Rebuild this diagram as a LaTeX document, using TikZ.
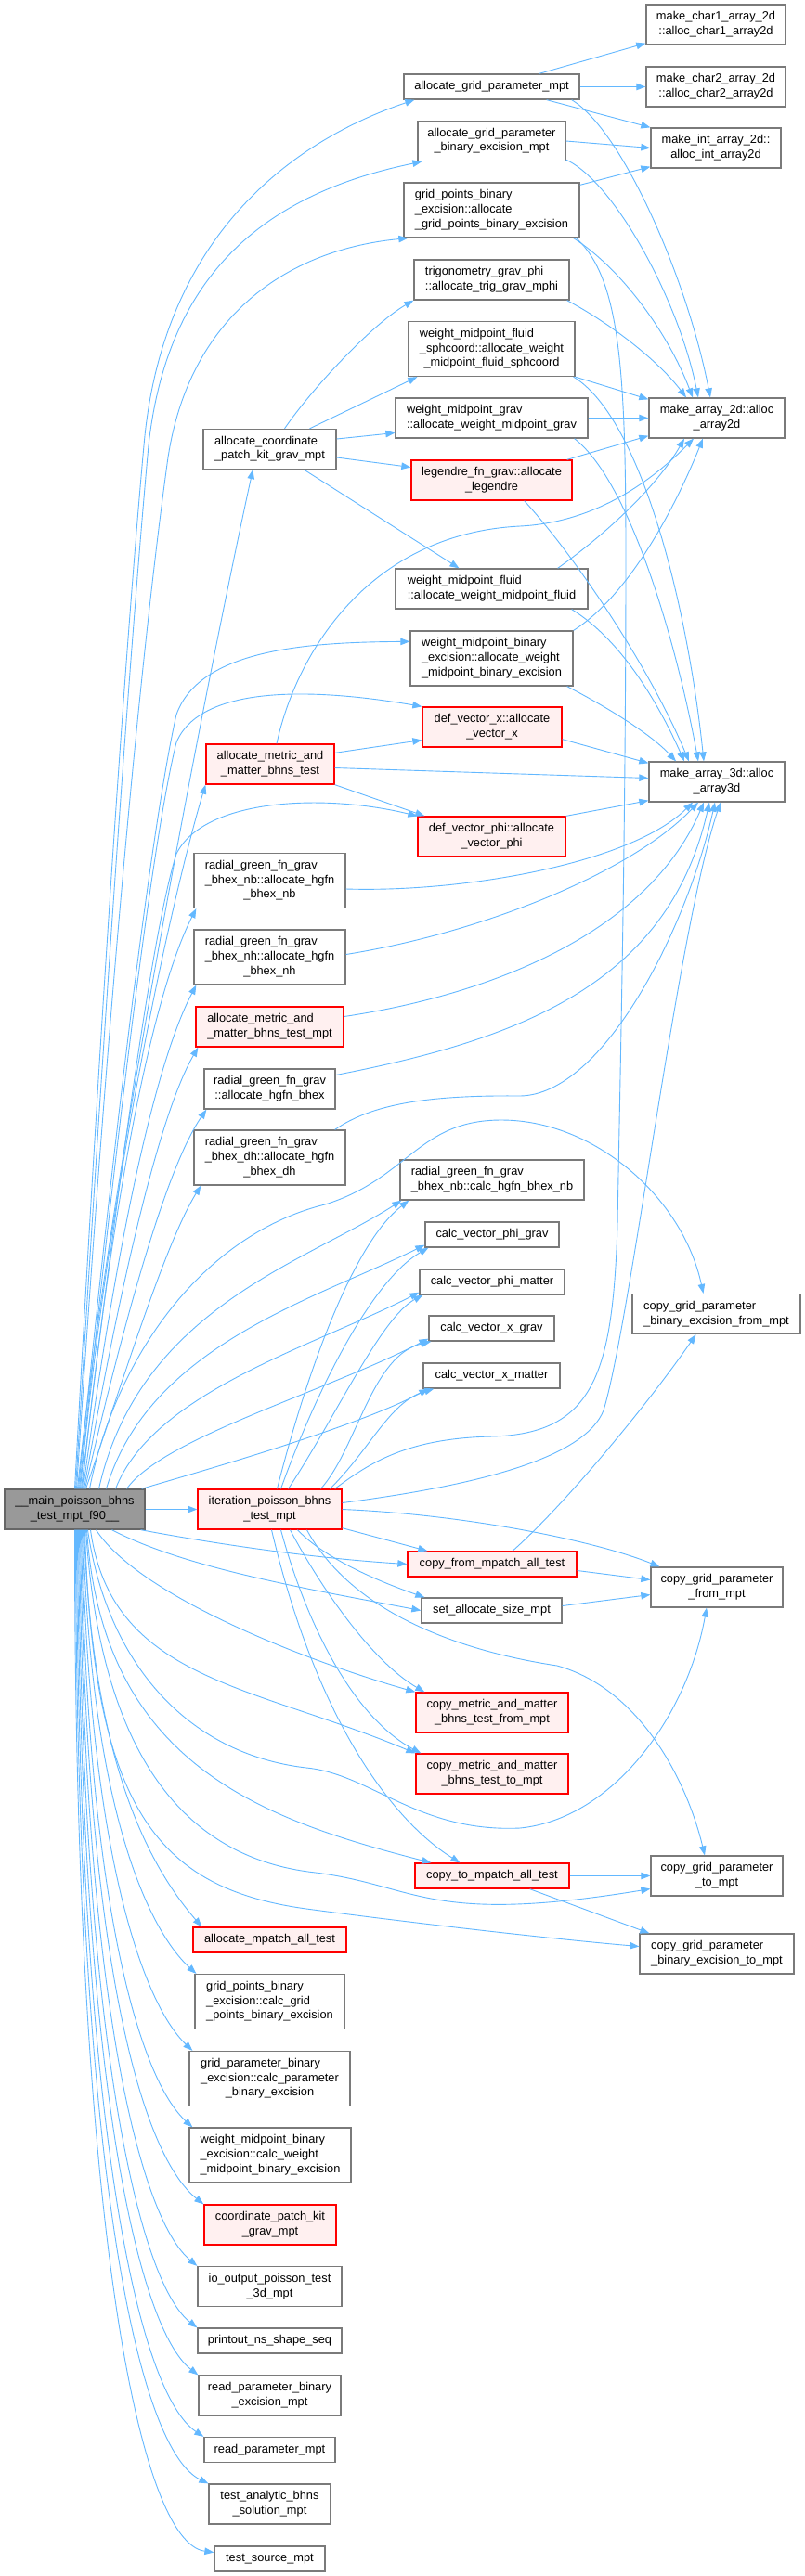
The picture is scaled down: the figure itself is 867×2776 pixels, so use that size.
\documentclass[tikz,border=0pt]{standalone}
\usepackage{fontspec}
\setmainfont{Liberation Sans}
\usetikzlibrary{arrows.meta}
\definecolor{edgeblue}{HTML}{63B8FF}
\definecolor{nodegray}{HTML}{7A7A7A}
\definecolor{nodered}{HTML}{FF0000}
\definecolor{nodepink}{HTML}{FFF0F0}
\definecolor{maingray}{HTML}{999999}
\definecolor{maindark}{HTML}{666666}
\newcommand\nodefont{\fontsize{12.8pt}{15.7pt}\selectfont}
\newcommand\twol[2]{\begin{tabular}{@{}l@{}}#1\\\multicolumn{1}{@{}c@{}}{#2}\end{tabular}}
\newcommand\threel[3]{\begin{tabular}{@{}l@{}}#1\\#2\\\multicolumn{1}{@{}c@{}}{#3}\end{tabular}}
\newcommand\nd[7]{\node[#2,minimum width=#5pt,minimum height=#6pt] (#1) at (#3,#4) {#7};}
\tikzset{
  box/.style={rectangle,draw=nodegray,fill=white,line width=1.3pt,inner sep=0pt,font=\nodefont},
  redbox/.style={box,draw=nodered,fill=nodepink},
  mainbox/.style={box,draw=maindark,fill=maingray},
  edge/.style={draw=edgeblue,line width=0.9pt,-{Triangle[length=10pt,width=7.5pt]}},
  plainedge/.style={draw=edgeblue,line width=0.9pt},
}
\begin{document}
\begin{tikzpicture}[x=1pt,y=-1pt]
\fill[white] (0,0) rectangle (867,2776);
\useasboundingbox (0,0) rectangle (867,2776);
% column 4
\nd{char1}{box}{771}{26.5}{150}{43}{\twol{make\_char1\_array\_2d}{::alloc\_char1\_array2d}}
\nd{char2}{box}{771}{93.5}{150}{43}{\twol{make\_char2\_array\_2d}{::alloc\_char2\_array2d}}
\nd{mint}{box}{771}{159.5}{140}{43}{\twol{make\_int\_array\_2d::}{alloc\_int\_array2d}}
\nd{ma2}{box}{772}{450.5}{146}{43}{\twol{make\_array\_2d::alloc}{\_array2d}}
\nd{ma3}{box}{772}{842.5}{146}{43}{\twol{make\_array\_3d::alloc}{\_array3d}}
\nd{cgpbef}{box}{771.5}{1416}{181}{43}{\twol{copy\_grid\_parameter}{\_binary\_excision\_from\_mpt}}
\nd{cgpfm}{box}{772}{1710.5}{142}{43}{\twol{copy\_grid\_parameter}{\_from\_mpt}}
\nd{cgptm}{box}{772}{2021.5}{142}{43}{\twol{copy\_grid\_parameter}{\_to\_mpt}}
\nd{cgpbetm}{box}{772}{2105.5}{166}{43}{\twol{copy\_grid\_parameter}{\_binary\_excision\_to\_mpt}}
% column 3
\nd{agp}{box}{529.5}{93.5}{189}{27}{allocate\_grid\_parameter\_mpt}
\nd{agpbe}{box}{529.5}{152}{159}{43}{\twol{allocate\_grid\_parameter}{\_binary\_excision\_mpt}}
\nd{gpbe}{box}{529.5}{226.5}{189}{59}{\threel{grid\_points\_binary}{\_excision::allocate}{\_grid\_points\_binary\_excision}}
\nd{trig}{box}{529.5}{301.5}{167}{43}{\twol{trigonometry\_grav\_phi}{::allocate\_trig\_grav\_mphi}}
\nd{sph}{box}{529.5}{376}{179}{59}{\threel{weight\_midpoint\_fluid}{\_sphcoord::allocate\_weight}{\_midpoint\_fluid\_sphcoord}}
\nd{wmg}{box}{529.5}{450.5}{207}{43}{\twol{weight\_midpoint\_grav}{::allocate\_weight\_midpoint\_grav}}
\nd{leg}{redbox}{529.5}{517.5}{173}{43}{\twol{legendre\_fn\_grav::allocate}{\_legendre}}
\nd{wmf}{box}{529.5}{634.5}{207}{43}{\twol{weight\_midpoint\_fluid}{::allocate\_weight\_midpoint\_fluid}}
\nd{wmbea}{box}{529.5}{709.5}{175}{59}{\threel{weight\_midpoint\_binary}{\_excision::allocate\_weight}{\_midpoint\_binary\_excision}}
\nd{dvx}{redbox}{530}{783.5}{150}{43}{\twol{def\_vector\_x::allocate}{\_vector\_x}}
\nd{dvphi}{redbox}{529.5}{901.5}{159}{43}{\twol{def\_vector\_phi::allocate}{\_vector\_phi}}
\nd{rgnbc}{box}{530}{1271.5}{198}{43}{\twol{radial\_green\_fn\_grav}{\_bhex\_nb::calc\_hgfn\_bhex\_nb}}
\nd{cvpg}{box}{530}{1330.5}{144}{27}{calc\_vector\_phi\_grav}
\nd{cvpm}{box}{530}{1381.5}{156}{27}{calc\_vector\_phi\_matter}
\nd{cvxg}{box}{529.5}{1431.5}{135}{27}{calc\_vector\_x\_grav}
\nd{cvxm}{box}{529.5}{1482.5}{147}{27}{calc\_vector\_x\_matter}
\nd{cfmp}{redbox}{530}{1685.5}{182}{27}{copy\_from\_mpatch\_all\_test}
\nd{sas}{box}{529.5}{1735.5}{151}{27}{set\_allocate\_size\_mpt}
\nd{cmmf}{redbox}{530}{1845.5}{164}{43}{\twol{copy\_metric\_and\_matter}{\_bhns\_test\_from\_mpt}}
\nd{cmmt}{redbox}{530}{1911.5}{164}{43}{\twol{copy\_metric\_and\_matter}{\_bhns\_test\_to\_mpt}}
\nd{ctmp}{redbox}{530}{2021.5}{166}{27}{copy\_to\_mpatch\_all\_test}
% column 2
\nd{acpk}{box}{290.5}{484}{143}{43}{\twol{allocate\_coordinate}{\_patch\_kit\_grav\_mpt}}
\nd{amm}{redbox}{291}{823.5}{138}{43}{\twol{allocate\_metric\_and}{\_matter\_bhns\_test}}
\nd{rgnba}{box}{290.5}{949}{163}{59}{\threel{radial\_green\_fn\_grav}{\_bhex\_nb::allocate\_hgfn}{\_bhex\_nb}}
\nd{rgnha}{box}{290.5}{1031.5}{163}{59}{\threel{radial\_green\_fn\_grav}{\_bhex\_nh::allocate\_hgfn}{\_bhex\_nh}}
\nd{ammmpt}{redbox}{290.5}{1106.5}{159}{43}{\twol{allocate\_metric\_and}{\_matter\_bhns\_test\_mpt}}
\nd{rgba}{box}{290.5}{1173.5}{141}{43}{\twol{radial\_green\_fn\_grav}{::allocate\_hgfn\_bhex}}
\nd{rgdha}{box}{290.5}{1247.5}{163}{59}{\threel{radial\_green\_fn\_grav}{\_bhex\_dh::allocate\_hgfn}{\_bhex\_dh}}
\nd{iter}{redbox}{290.5}{1626.5}{155}{43}{\twol{iteration\_poisson\_bhns}{\_test\_mpt}}
\nd{amp}{redbox}{290.5}{2090.5}{165}{27}{allocate\_mpatch\_all\_test}
\nd{gpbec}{box}{290.5}{2157}{161}{59}{\threel{grid\_points\_binary}{\_excision::calc\_grid}{\_points\_binary\_excision}}
\nd{gpbc}{box}{290.5}{2240}{173}{59}{\threel{grid\_parameter\_binary}{\_excision::calc\_parameter}{\_binary\_excision}}
\nd{wmbec}{box}{291}{2322.5}{174}{59}{\threel{weight\_midpoint\_binary}{\_excision::calc\_weight}{\_midpoint\_binary\_excision}}
\nd{cpk}{redbox}{291}{2397.5}{142}{43}{\twol{coordinate\_patch\_kit}{\_grav\_mpt}}
\nd{io}{box}{290.5}{2464}{155}{43}{\twol{io\_output\_poisson\_test}{\_3d\_mpt}}
\nd{pr}{box}{290.5}{2522.5}{155}{27}{printout\_ns\_shape\_seq}
\nd{rpbe}{box}{290.5}{2581.5}{153}{43}{\twol{read\_parameter\_binary}{\_excision\_mpt}}
\nd{rp}{box}{290.5}{2640}{141}{27}{read\_parameter\_mpt}
\nd{tab}{box}{290.5}{2698.5}{131}{43}{\twol{test\_analytic\_bhns}{\_solution\_mpt}}
\nd{ts}{box}{290.5}{2757.5}{119}{27}{test\_source\_mpt}
% column 1
\nd{main}{mainbox}{80.5}{1626.5}{151}{43}{\twol{\_\_main\_poisson\_bhns}{\_test\_mpt\_f90\_\_}}

% ---- main, upward
\draw[edge] ([xshift=0pt]main.north) .. controls (108,1100) and (135,700) .. (155,480) .. controls (175,250) and (320,150) .. ([xshift=12pt]agp.south west);
\draw[edge] ([xshift=1pt]main.north) .. controls (112,1100) and (140,700) .. (160,480) .. controls (180,300) and (280,210) .. ([xshift=5pt]agpbe.south west);
\draw[edge] ([xshift=2pt]main.north) .. controls (115,1100) and (150,720) .. (180,500) .. controls (200,350) and (300,270) .. ([xshift=5pt]gpbe.south west);
\draw[edge] ([xshift=3pt]main.north) .. controls (120,1250) and (230,700) .. ([xshift=54pt]acpk.south west);
\draw[edge] ([xshift=4pt]main.north) .. controls (125,1200) and (165,880) .. (190,770) .. controls (215,700) and (330,692) .. ([yshift=-12pt]wmbea.north west);
\draw[edge] ([xshift=5pt]main.north) .. controls (128,1200) and (165,900) .. (190,800) .. controls (215,740) and (330,740) .. (dvx.north west);
\draw[edge] ([xshift=6pt]main.north) .. controls (120,1250) and (190,950) .. (amm.south west);
\draw[edge] ([xshift=7pt]main.north) .. controls (130,1250) and (165,1000) .. (190,920) .. controls (220,860) and (350,855) .. (dvphi.north west);
\draw[edge] ([xshift=8pt]main.north) .. controls (125,1250) and (170,1060) .. ([xshift=3pt]rgnba.south west);
\draw[edge] ([xshift=9pt]main.north) .. controls (128,1320) and (170,1140) .. ([xshift=3pt]rgnha.south west);
\draw[edge] ([xshift=10pt]main.north) .. controls (130,1380) and (172,1200) .. ([xshift=3pt]ammmpt.south west);
\draw[edge] ([xshift=11pt]main.north) .. controls (132,1430) and (178,1260) .. ([xshift=3pt]rgba.south west);
\draw[edge] ([xshift=12pt]main.north) .. controls (135,1480) and (178,1340) .. ([xshift=8pt]rgdha.south west);
\draw[edge] ([xshift=16pt]main.north) .. controls (125,1460) and (220,1330) .. (350,1298) .. controls (440,1270) and (450,1207) .. (540,1207) .. controls (640,1207) and (735,1290) .. ([xshift=-14pt]cgpbef.north);
\draw[edge] ([xshift=26pt]main.north) .. controls (150,1410) and (330,1360) .. ([xshift=2pt]rgnbc.south west);
\draw[edge] ([xshift=34pt]main.north) .. controls (160,1450) and (340,1400) .. ([yshift=3pt]cvpg.south west);
\draw[edge] ([xshift=44pt]main.north) .. controls (165,1500) and (340,1450) .. ([yshift=3pt]cvpm.south west);
\draw[edge] ([xshift=56pt]main.north) .. controls (175,1550) and (350,1500) .. ([yshift=3pt]cvxg.south west);
\draw[edge] ([xshift=-4pt]main.north east) .. controls (200,1590) and (380,1540) .. ([xshift=6pt]cvxm.south west);
\draw[edge] (main) -- (iter);
% ---- main, downward
\draw[edge] ([xshift=-5pt]main.south east) .. controls (250,1667) and (350,1680) .. (cfmp.west);
\draw[edge] ([xshift=40pt]main.south) .. controls (200,1690) and (330,1712) .. (sas.west);
\draw[edge] ([xshift=23pt]main.south) .. controls (150,1720) and (330,1790) .. (cmmf.north west);
\draw[edge] ([xshift=17pt]main.south) .. controls (120,1810) and (270,1815) .. (cmmt.north west);
\draw[edge] ([xshift=14pt]main.south) .. controls (115,1790) and (200,1890) .. (330,1905) .. controls (400,1912) and (450,1975) .. (560,1970) .. controls (660,1960) and (740,1850) .. ([xshift=-11pt]cgpfm.south);
\draw[edge] ([xshift=13pt]main.south) .. controls (110,1900) and (280,1960) .. ([xshift=18pt]ctmp.north west);
\draw[edge] ([xshift=12pt]main.south) .. controls (110,1920) and (220,2005) .. (340,2018) .. controls (450,2032) and (460,2075) .. ([yshift=-14pt]cgptm.west);
\draw[edge] ([xshift=11pt]main.south) .. controls (100,1950) and (170,2035) .. (330,2057) .. controls (450,2073) and (600,2090) .. ([yshift=8pt]cgpbetm.west);
\draw[edge] ([xshift=10pt]main.south) .. controls (100,1900) and (160,2010) .. ([xshift=10pt]amp.north west);
\draw[edge] ([xshift=9pt]main.south) .. controls (98,1950) and (160,2080) .. ([xshift=2pt]gpbec.north west);
\draw[edge] ([xshift=8pt]main.south) .. controls (96,2000) and (155,2160) .. ([xshift=4pt]gpbc.north west);
\draw[edge] ([xshift=7pt]main.south) .. controls (94,2050) and (150,2240) .. ([xshift=4pt]wmbec.north west);
\draw[edge] ([xshift=6pt]main.south) .. controls (92,2100) and (150,2320) .. (cpk.north west);
\draw[edge] ([xshift=5pt]main.south) .. controls (90,2150) and (150,2390) .. (io.north west);
\draw[edge] ([xshift=4pt]main.south) .. controls (88,2200) and (150,2460) .. (pr.north west);
\draw[edge] ([xshift=3pt]main.south) .. controls (86,2250) and (150,2510) .. (rpbe.north west);
\draw[edge] ([xshift=2pt]main.south) .. controls (84,2300) and (150,2580) .. (rp.north west);
\draw[edge] ([xshift=1pt]main.south) .. controls (82,2350) and (150,2640) .. (tab.north west);
\draw[edge] ([xshift=0pt]main.south) .. controls (80,2400) and (150,2740) .. ([yshift=7pt]ts.west);
% ---- column 3 to column 4 (top)
\draw[edge] ([xshift=-44pt]agp.north east) -- ([yshift=2pt]char1.south west);
\draw[edge] (agp.east) -- (char2.west);
\draw[edge] ([xshift=-36pt]agp.south east) -- (mint.north west);
\draw[edge] ([xshift=-9pt]agp.south east) .. controls (670,140) and (740,300) .. ([xshift=-7pt]ma2.north);
\draw[edge] (agpbe.east) -- (mint.west);
\draw[edge] ([yshift=2pt]agpbe.south east) .. controls (660,195) and (730,320) .. ([xshift=-20pt]ma2.north);
\draw[edge] ([yshift=-3pt]gpbe.north east) -- ([yshift=2pt]mint.south west);
\draw[edge] ([xshift=-7pt]gpbe.south east) .. controls (670,290) and (720,360) .. ([xshift=-26pt]ma2.north);
\draw[plainedge] ([xshift=-4pt]gpbe.south east) .. controls (668,300) and (674,400) .. (674,600) .. controls (674,900) and (668,1150) .. (665,1320) .. controls (660,1480) and (640,1545) .. (530,1548) .. controls (440,1550) and (400,1575) .. ([xshift=-8pt]iter.north east);
\draw[edge] ([xshift=-3pt]trig.south east) .. controls (660,350) and (710,390) .. ([xshift=-33pt]ma2.north);
\draw[edge] (sph.south east) -- ([yshift=-2pt]ma2.north west);
\draw[edge] ([xshift=-2pt]sph.south east) .. controls (690,450) and (740,650) .. ([xshift=-14pt]ma3.north);
\draw[edge] (wmg.east) -- (ma2.west);
\draw[edge] ([xshift=-15pt]wmg.south east) .. controls (680,520) and (730,700) .. ([xshift=-20pt]ma3.north);
\draw[edge] ([xshift=-6pt]leg.north east) -- ([yshift=3pt]ma2.south west);
\draw[edge] ([xshift=-52pt]leg.south east) .. controls (620,600) and (700,720) .. ([xshift=-30pt]ma3.north);
% ---- allocate_coordinate_patch_kit_grav_mpt
\draw[edge] ([xshift=16pt]acpk.north) .. controls (335,420) and (400,350) .. (trig.south west);
\draw[edge] ([xshift=43pt]acpk.north) -- ([xshift=10pt]sph.south west);
\draw[edge] ([yshift=11pt]acpk.east) -- ([yshift=-16pt]wmg.west);
\draw[edge] ([yshift=-9pt]acpk.east) -- ([yshift=14pt]leg.west);
\draw[edge] ([xshift=37pt]acpk.south) -- ([xshift=-35pt]wmf.north);
\draw[edge] ([xshift=-33pt]wmf.north east) .. controls (660,570) and (710,520) .. ([xshift=-35pt]ma2.south);
\draw[edge] ([xshift=-18pt]wmf.south east) .. controls (670,690) and (710,760) .. ([xshift=-35pt]ma3.north);
\draw[edge] (wmbea.north east) .. controls (680,640) and (730,540) .. ([xshift=-15pt]ma2.south);
\draw[edge] ([xshift=-7pt]wmbea.south east) .. controls (650,760) and (700,790) .. ([xshift=-44pt]ma3.north);
\draw[edge] ([yshift=9pt]dvx.south east) -- ([yshift=-2pt]ma3.north west);
% ---- allocate_metric_and_matter_bhns_test
\draw[edge] ([yshift=-10pt]amm.north east) -- ([yshift=-14pt]dvx.west);
\draw[edge] ([yshift=-4pt]amm.east) -- ([yshift=4pt]ma3.west);
\draw[edge] (amm.south east) -- ([xshift=8pt]dvphi.north west);
\draw[edge] ([xshift=7pt]amm.north) .. controls (320,700) and (400,575) .. (560,567) .. controls (640,563) and (700,520) .. ([xshift=-25pt]ma2.south);
\draw[edge] (dvphi.north east) -- ([yshift=2pt]ma3.south west);
% ---- radial green functions etc. to make_array_3d
\draw[edge] ([yshift=-9pt]rgnba.east) .. controls (500,962) and (680,930) .. ([xshift=-26pt]ma3.south);
\draw[edge] ([yshift=3pt]rgnha.east) .. controls (520,1005) and (680,940) .. ([xshift=-20pt]ma3.south);
\draw[edge] ([yshift=11pt]ammmpt.east) .. controls (540,1070) and (700,1000) .. ([xshift=-14pt]ma3.south);
\draw[edge] ([yshift=15pt]rgba.east) .. controls (560,1120) and (720,1060) .. ([xshift=-8pt]ma3.south);
\draw[edge] ([xshift=-12pt]rgdha.north east) .. controls (400,1190) and (460,1180) .. (560,1181) .. controls (650,1180) and (740,1000) .. ([xshift=-2pt]ma3.south);
% ---- iteration_poisson_bhns_test_mpt
\draw[edge] ([xshift=8pt]iter.north) .. controls (330,1480) and (380,1340) .. ([xshift=10pt]rgnbc.south west);
\draw[edge] ([xshift=12pt]iter.north) .. controls (340,1500) and (400,1380) .. ([xshift=4pt]cvpg.south west);
\draw[edge] ([xshift=20pt]iter.north) .. controls (360,1530) and (410,1420) .. ([xshift=4pt]cvpm.south west);
\draw[edge] ([xshift=55pt]iter.north) .. controls (385,1560) and (400,1460) .. ([xshift=3pt]cvxg.south west);
\draw[edge] ([xshift=65pt]iter.north) .. controls (400,1560) and (420,1510) .. ([xshift=12pt]cvxm.south west);
\draw[edge] ([yshift=7pt]iter.east) .. controls (520,1600) and (630,1570) .. (650,1520) .. controls (680,1420) and (730,1000) .. ([xshift=4pt]ma3.south);
\draw[edge] (iter.east) .. controls (500,1632) and (640,1660) .. ([xshift=10pt]cgpfm.north west);
\draw[edge] ([yshift=2pt]iter.south east) -- ([xshift=22pt]cfmp.north west);
\draw[edge] ([xshift=30pt]iter.south) .. controls (350,1680) and (410,1705) .. ([xshift=4pt]sas.north west);
\draw[edge] ([xshift=22pt]iter.south) .. controls (345,1710) and (400,1790) .. ([xshift=10pt]cmmf.north west);
\draw[edge] ([xshift=12pt]iter.south) .. controls (330,1750) and (380,1850) .. ([xshift=6pt]cmmt.north west);
\draw[edge] ([xshift=2pt]iter.south) .. controls (340,1850) and (420,1960) .. ([xshift=49pt]ctmp.north west);
\draw[edge] ([xshift=40pt]iter.south) .. controls (380,1740) and (500,1780) .. (600,1795) .. controls (690,1820) and (740,1920) .. ([xshift=-13pt]cgptm.north);
% ---- copy routines
\draw[edge] ([xshift=22pt]cfmp.north) .. controls (610,1620) and (700,1510) .. ([xshift=-22pt]cgpbef.south);
\draw[edge] ([yshift=-7pt]cfmp.east) -- ([yshift=8pt]cgpfm.west);
\draw[edge] ([yshift=5pt]sas.east) -- ([yshift=-8pt]cgpfm.west);
\draw[edge] (ctmp.east) -- (cgptm.west);
\draw[edge] ([xshift=-43pt]ctmp.south east) -- ([xshift=11pt]cgpbetm.north west);
\end{tikzpicture}
\end{document}
